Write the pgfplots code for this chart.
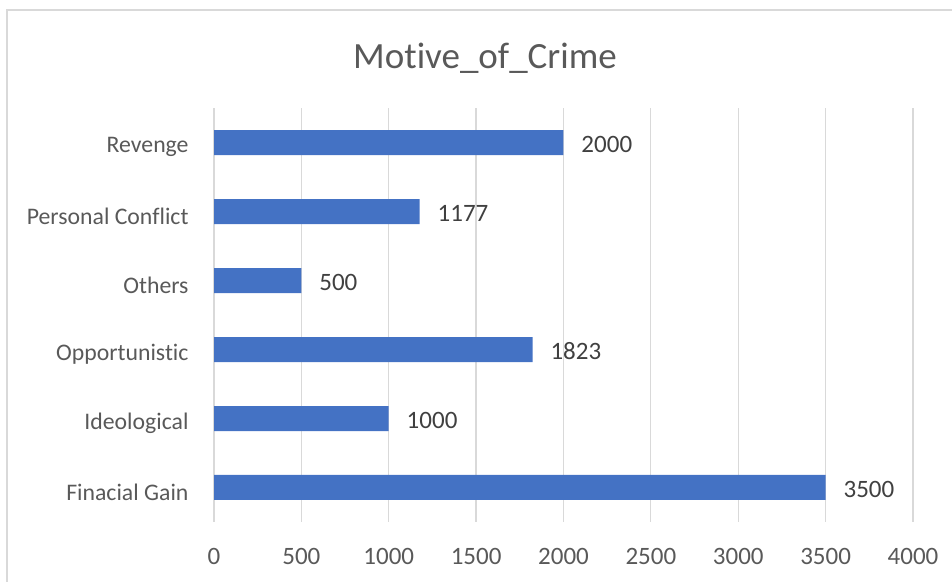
\documentclass[border=0pt]{standalone}
\usepackage{fontspec}
\setmainfont[Ligatures={NoCommon}]{Carlito}
\usepackage{pgfplots}
\pgfplotsset{compat=1.18}
\definecolor{barblue}{HTML}{4472C4}
\definecolor{gridgray}{HTML}{D9D9D9}
\definecolor{labgray}{HTML}{595959}
\definecolor{valgray}{HTML}{404040}
\begin{document}
\begin{tikzpicture}
\path[use as bounding box] (0,0) rectangle (380.8pt,232.8pt);
\draw[gridgray, line width=0.6pt] (2.8pt,0pt) -- (2.8pt,228.8pt) -- (381pt,228.8pt);
\node[labgray, font=\fontsize{14.8}{18}\selectfont] at (194pt,209.5pt) {Motive\_of\_Crime};
\begin{axis}[
  at={(85.6pt,24pt)}, anchor=south west,
  scale only axis, width=279.6pt, height=165.6pt,
  xbar, bar width=10pt,
  xmin=0, xmax=4000, ymin=-0.5, ymax=5.5,
  xtick={0,500,...,4000},
  ytick={0,1,2,3,4,5},
  yticklabels={Finacial Gain,Ideological,Opportunistic,Others,Personal Conflict,Revenge},
  axis line style={draw=none},
  major tick length=0pt,
  xmajorgrids, grid style={gridgray, line width=0.5pt},
  /pgf/number format/assume math mode=true,
  /pgf/number format/1000 sep={},
  tick label style={labgray, font=\fontsize{10}{12}\selectfont},
  xticklabel style={anchor=center, yshift=-13.8pt},
  yticklabel style={anchor=east, inner sep=0pt, xshift=-10pt, yshift=-1.8pt, font=\fontsize{9.5}{11}\selectfont},
  nodes near coords,
  point meta=x,
  every node near coord/.append style={anchor=west, inner sep=0pt, xshift=7pt, yshift=-0.6pt, valgray, font=\fontsize{10}{12}\selectfont},
]
\addplot[fill=barblue, draw=none] coordinates {
  (3500,0) (1000,1) (1823,2) (500,3) (1177,4) (2000,5)
};
\end{axis}
\end{tikzpicture}
\end{document}
